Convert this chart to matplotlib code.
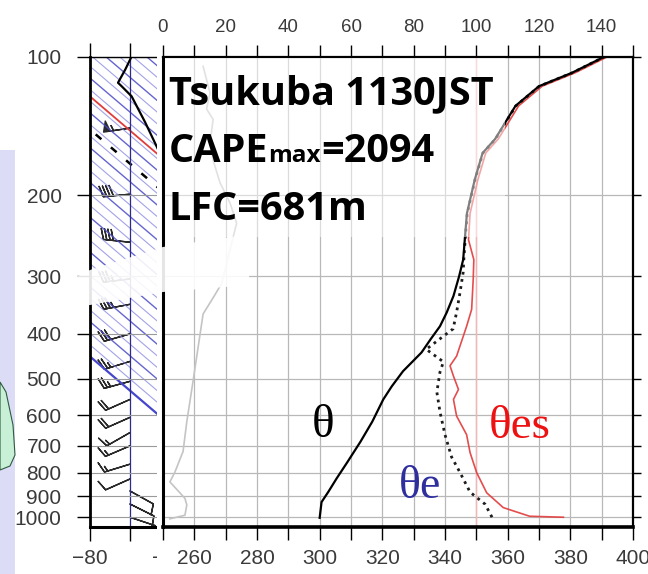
import numpy as np
import matplotlib.pyplot as plt
from matplotlib.patches import Rectangle, Polygon
from matplotlib.ticker import NullLocator
from matplotlib.offsetbox import TextArea, HPacker, VPacker, AnnotationBbox

W, H = 648, 574

# potential temperature profiles, Tsukuba 1130JST (hPa, K)
theta_p = [1003, 927, 880, 824, 760, 686, 620, 555, 520, 482, 439, 410, 385, 360,
           331, 300, 276, 241, 219, 185, 162, 151, 128, 116, 108.5, 100]
theta = [300.0, 300.6, 302.8, 305.4, 308.8, 313.0, 316.8, 320.3, 323.0, 326.6, 332.5,
         335.5, 338.4, 340.5, 342.7, 344.5, 345.8, 346.5, 347.0, 349.5, 352.0, 356.0,
         362.5, 370.0, 380.5, 391.0]

thetae_p = [1000, 937, 882, 800, 740, 662, 591, 535, 484, 460, 432, 390, 359, 325,
            294, 276, 241, 219, 185, 162, 151, 128, 116, 108.5, 100]
thetae = [355.0, 352.8, 348.0, 344.8, 342.1, 340.0, 338.4, 337.4, 338.4, 339.5, 334.0,
          342.6, 343.7, 344.8, 345.8, 346.0, 346.6, 347.1, 349.6, 352.1, 356.1, 362.6,
          370.1, 380.6, 391.1]

thetaes_p = [1000, 995, 953, 885, 800, 724, 662, 603, 555, 528, 494, 469, 447, 385,
             354, 305, 276, 250, 219, 185, 162, 151, 128, 116, 108.5, 100]
thetaes = [377.8, 367.0, 358.6, 353.3, 350.1, 348.0, 346.9, 343.7, 342.7, 344.3, 342.7,
           341.6, 343.7, 346.9, 348.5, 349.0, 349.2, 347.5, 348.0, 350.5, 353.0, 357.0,
           363.5, 371.0, 381.5, 392.0]

# wind speed on the upper axis
wspd_p = [1008, 990, 940, 910, 838, 798, 720, 620, 506, 362, 334, 311, 230, 208,
          188, 168, 154, 137, 130, 120, 105]
wspd = [2.2, 7.0, 7.6, 7.0, 2.2, 3.8, 6.4, 7.6, 9.6, 12.8, 16.0, 18.7, 23.5, 21.4,
        18.2, 16.0, 15.0, 16.0, 13.9, 15.0, 12.8]

# left panel: upper temperature trace and wind barbs
temp_p = [100, 106.8, 114, 116, 122, 139, 157, 170]
temp_x = [-69.6, -71.2, -73.0, -72.1, -69.6, -66.2, -63.3, -61.5]

barb_p = [143, 199, 253, 304, 345, 400, 459, 507, 555, 607, 655, 700, 767, 826,
          877, 936, 1000]
barb_u = [52, 42, 38, 34, 32, 28, 26, 22, 18, 18, 14, 14, 13, 9, -9, -10, -12]
barb_v = [8, 4, -4, 4, 6, 8, 8, 6, 8, 8, 8, 6, 4, 4, 5, 5, 4]

levels = [100, 200, 300, 400, 500, 600, 700, 800, 900, 1000]
SKEW = 135
blue_offsets = np.arange(-167.9, -55, 3.4)
red_offset = -91.7
dash_offset = -101.4

TICK_FONT = 'Liberation Sans'
LABEL_COLOR = '#3a3a3a'


def fx(px):
    return px / W


def fy(py):
    return 1 - py / H


fig = plt.figure(figsize=(W / 100, H / 100), dpi=100)
fig.patch.set_facecolor('white')

y_top, y_bot = 56.5, 527

# ---- left panel (skewed lines + wind barbs)
axw = fig.add_axes([fx(90), fy(y_bot), fx(170) - fx(90), fy(y_top) - fy(y_bot)])
axw.set_zorder(0)
axw.set_yscale('log')
axw.set_ylim(1050, 100)
axw.set_xlim(-80, -60)

pp = np.geomspace(100, 1050, 60)
for i, c in enumerate(blue_offsets):
    if i == 0:
        axw.plot(c + SKEW * np.log10(pp / 100), pp, color='#4646cc', lw=1.6)
    elif i % 3 == 0:
        axw.plot(c + SKEW * np.log10(pp / 100), pp, color='#4a4ac8', lw=1.0, alpha=0.85)
    else:
        axw.plot(c + SKEW * np.log10(pp / 100), pp, color='#8484e2', lw=0.8, alpha=0.75)
axw.plot(red_offset + SKEW * np.log10(pp / 100), pp, color='#e03c3c', lw=1.3)
axw.plot(dash_offset + SKEW * np.log10(pp / 100), pp, color='black', lw=1.8,
         dashes=(3, 5))
axw.axvline(-70, color='#2c2c88', lw=0.9)
for lv in levels:
    axw.axhline(lv, color='#9a9a9a', lw=0.8)
axw.plot(temp_x, temp_p, color='black', lw=1.6)
axw.barbs(np.full(len(barb_p), -70.0), barb_p, barb_u, barb_v, length=6.2,
          linewidth=1.0, color='#2a2a2a', sizes=dict(emptybarb=0))

axw.set_yticks(levels)
axw.set_yticklabels([str(v) for v in levels])
axw.yaxis.set_minor_locator(NullLocator())
axw.set_xticks([-80, -60])
axw.set_xticklabels(['\u221280', '\u221260'])
axw.set_xticks([-70], minor=True)
axw.tick_params(axis='y', which='major', direction='out', length=9.5, width=1,
                pad=11, labelsize=15, labelcolor=LABEL_COLOR)
axw.tick_params(axis='x', which='both', direction='out', length=10, width=1,
                top=True, pad=6, labelsize=15, labelcolor=LABEL_COLOR)
for lab in axw.get_xticklabels() + axw.get_yticklabels():
    lab.set_fontfamily(TICK_FONT)
axw.spines['right'].set_visible(False)
axw.spines['left'].set_linewidth(2.0)
axw.spines['bottom'].set_linewidth(2.2)
axw.spines['top'].set_linewidth(1.0)

# white backing behind the main diagram
fig.patches.append(Rectangle((fx(157), 0), 1 - fx(157), 1, transform=fig.transFigure,
                             facecolor='white', edgecolor='none', zorder=1))

# ---- main theta diagram
ax = fig.add_axes([fx(163), fy(y_bot), fx(633) - fx(163), fy(y_top) - fy(y_bot)])
ax.set_zorder(2)
ax.set_yscale('log')
ax.set_ylim(1050, 100)
ax.set_xlim(250, 400)
ax.set_xticks(range(260, 401, 20))
ax.set_xticks(range(250, 401, 10), minor=True)
ax.set_yticks(levels)
ax.yaxis.set_minor_locator(NullLocator())
ax.yaxis.tick_right()
ax.tick_params(axis='y', which='major', direction='out', length=6, width=1,
               labelright=False, labelleft=False)
ax.tick_params(axis='x', which='both', direction='out', length=9, width=1,
               pad=7, labelsize=15, labelcolor=LABEL_COLOR)
for lab in ax.get_xticklabels():
    lab.set_fontfamily(TICK_FONT)
ax.grid(axis='x', which='both', color='#b8b8b8', lw=0.9)
ax.grid(axis='y', which='major', color='#b8b8b8', lw=0.9)
ax.spines['left'].set_linewidth(2.2)
ax.spines['bottom'].set_linewidth(2.6)
ax.spines['top'].set_linewidth(1.6)
ax.spines['right'].set_linewidth(1.6)

ax.axvline(350, color='#f2b6b6', lw=1.0)
ax.plot(thetaes, thetaes_p, color='#e23a3a', lw=1.2, alpha=0.9)
ax.plot(thetae, thetae_p, color='#1c1c1c', lw=2.0, dashes=(1, 1.6))
ax.plot(theta, theta_p, color='black', lw=1.6)

ax.text(301, 634, '\u03b8', color='black', fontsize=34, family='Liberation Serif',
        ha='center', va='center')
ax.text(332, 858, '\u03b8e', color='#2e2e9e', fontsize=33, family='Liberation Serif',
        ha='center', va='center')
ax.text(364, 637, '\u03b8es', color='#ee1111', fontsize=34, family='Liberation Serif',
        ha='center', va='center')

# upper axis for wind speed
axt = ax.twiny()
axt.set_zorder(3)
axt.set_xlim(0, 150)
axt.set_xticks(range(0, 141, 20))
axt.set_xticks(range(0, 151, 10), minor=True)
axt.tick_params(axis='x', which='both', direction='out', length=9, width=1,
                pad=6, labelsize=13.5, labelcolor=LABEL_COLOR)
for lab in axt.get_xticklabels():
    lab.set_fontfamily(TICK_FONT)
for s in axt.spines.values():
    s.set_visible(False)
axt.plot(wspd, wspd_p, color='#c4c4c4', lw=1.2)

# station annotation on a translucent white card
card = Rectangle((fx(164.5), fy(237)), fx(505) - fx(164.5), fy(58) - fy(237),
                 transform=fig.transFigure, facecolor='white', edgecolor='none',
                 alpha=0.5, zorder=4)
axt.add_artist(card)

big = dict(fontsize=28.5, fontweight='bold', family='Open Sans', color='black')
small = dict(fontsize=17.5, fontweight='bold', family='Open Sans', color='black')
line1 = TextArea('Tsukuba 1130JST', textprops=big)
line2 = HPacker(children=[TextArea('CAPE', textprops=big),
                          TextArea('max', textprops=small),
                          TextArea('=2094', textprops=big)],
                align='baseline', pad=0, sep=0)
line3 = TextArea('LFC=681m', textprops=big)
block = VPacker(children=[line1, line2, line3], align='left', pad=0, sep=13.5)
ab = AnnotationBbox(block, (169, H - 74), xycoords='figure pixels',
                    box_alignment=(0, 1), frameon=False, pad=0, zorder=6)
axt.add_artist(ab)

# slide decorations around the diagram
fig.patches.append(Polygon([(fx(0), fy(288)), (fx(62), fy(284)), (fx(90), fy(270)),
                            (fx(163), fy(247)), (fx(245), fy(235)), (fx(250), fy(285)),
                            (fx(163), fy(292)), (fx(90), fy(305)), (fx(0), fy(312))],
                           closed=True, transform=fig.transFigure, facecolor='white',
                           edgecolor='none', alpha=0.9, zorder=5))
fig.patches.append(Rectangle((0, 0), fx(15), fy(150), transform=fig.transFigure,
                             facecolor='#dcdcf7', edgecolor='none', zorder=6))
fig.patches.append(Polygon([(fx(0), fy(382)), (fx(6), fy(392)), (fx(13), fy(425)),
                            (fx(15), fy(455)), (fx(10), fy(466)), (fx(0), fy(470))],
                           closed=True, transform=fig.transFigure, facecolor='#c8f0d6',
                           edgecolor='#2d5a3d', lw=0.8, zorder=7))

fig.savefig('out.png', dpi=100)
